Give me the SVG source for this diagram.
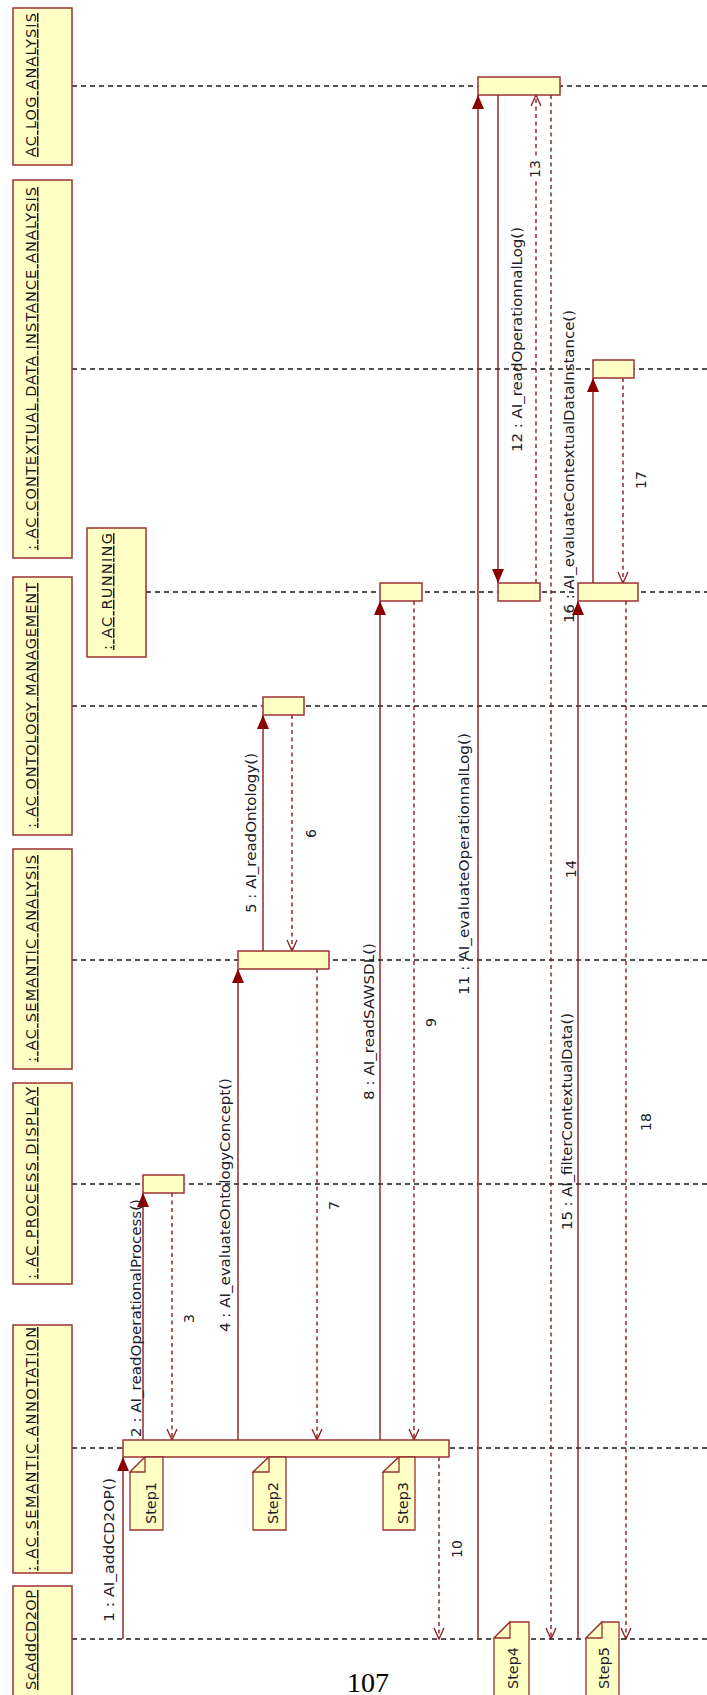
<svg xmlns="http://www.w3.org/2000/svg" width="707" height="1695" viewBox="0 0 707 1695">
<style>
.bg{fill:#ffffff}
.obj{fill:#ffffc6;stroke:#9a3232;stroke-width:1.5}
.act{fill:#ffffc6;stroke:#9a3232;stroke-width:1.5}
.note{fill:#ffffc6;stroke:#9a3232;stroke-width:1.3}
.life{stroke:#1a1a1a;stroke-width:1.4;stroke-dasharray:5,4;fill:none}
.msg{stroke:#8b1a1a;stroke-width:1.4;fill:none}
.ret{stroke:#8b1a1a;stroke-width:1.4;stroke-dasharray:4,3.5;fill:none}
.lbl{font-family:"DejaVu Sans","Liberation Sans",sans-serif;font-size:14.5px;fill:#1a1a1a;text-decoration:underline}
.mt{font-family:"DejaVu Sans","Liberation Sans",sans-serif;font-size:14px;fill:#202028}
.pg{font-family:"Liberation Serif","DejaVu Serif",serif;font-size:28px;fill:#000}
</style>
<defs>
<marker id="fill" viewBox="0 0 14 12" refX="14" refY="6" markerWidth="14" markerHeight="12" markerUnits="userSpaceOnUse" orient="auto">
<path d="M0,0 L14,6 L0,12 Z" fill="#8b0000"/>
</marker>
<marker id="open" viewBox="0 0 12 12" refX="11" refY="6" markerWidth="12" markerHeight="12" markerUnits="userSpaceOnUse" orient="auto">
<path d="M0,1 L11,6 L0,11" fill="none" stroke="#8b1a1a" stroke-width="1.3"/>
</marker>
</defs>
<rect class="bg" x="0" y="0" width="707" height="1695"/>

<g id="lifelines">
<line class="life" x1="72" y1="86" x2="707" y2="86"/>
<line class="life" x1="72" y1="369" x2="707" y2="369"/>
<line class="life" x1="146" y1="592" x2="707" y2="592"/>
<line class="life" x1="72" y1="706" x2="707" y2="706"/>
<line class="life" x1="72" y1="960" x2="707" y2="960"/>
<line class="life" x1="72" y1="1184" x2="707" y2="1184"/>
<line class="life" x1="72" y1="1448" x2="707" y2="1448"/>
<line class="life" x1="72" y1="1639" x2="707" y2="1639"/>
</g>

<g id="obj-log">
<rect class="obj" x="13" y="8" width="59" height="157"/>
<text class="lbl" transform="translate(36,157) rotate(-90)" textLength="144" lengthAdjust="spacing">AC LOG ANALYSIS</text>
</g>
<g id="obj-contextual">
<rect class="obj" x="13" y="180" width="59" height="378"/>
<text class="lbl" transform="translate(36,550) rotate(-90)" textLength="363" lengthAdjust="spacing">: AC CONTEXTUAL DATA INSTANCE ANALYSIS</text>
</g>
<g id="obj-running">
<rect class="obj" x="87" y="528" width="59" height="129"/>
<text class="lbl" transform="translate(112,650) rotate(-90)" textLength="117" lengthAdjust="spacing">: AC RUNNING</text>
</g>
<g id="obj-ontology">
<rect class="obj" x="13" y="577" width="59" height="258"/>
<text class="lbl" transform="translate(36,828) rotate(-90)" textLength="245" lengthAdjust="spacing">: AC ONTOLOGY MANAGEMENT</text>
</g>
<g id="obj-semantic-analysis">
<rect class="obj" x="13" y="849" width="59" height="220"/>
<text class="lbl" transform="translate(36,1062) rotate(-90)" textLength="207" lengthAdjust="spacing">: AC SEMANTIC ANALYSIS</text>
</g>
<g id="obj-process-display">
<rect class="obj" x="13" y="1083" width="59" height="201"/>
<text class="lbl" transform="translate(36,1279) rotate(-90)" textLength="192" lengthAdjust="spacing">: AC PROCESS DISPLAY</text>
</g>
<g id="obj-semantic-annotation">
<rect class="obj" x="13" y="1325" width="59" height="248"/>
<text class="lbl" transform="translate(36,1571) rotate(-90)" textLength="244" lengthAdjust="spacing">: AC SEMANTIC ANNOTATION</text>
</g>
<g id="obj-scadd">
<rect class="obj" x="13" y="1586" width="59" height="120"/>
<text class="lbl" transform="translate(36,1690) rotate(-90)" textLength="100" lengthAdjust="spacing">ScAddCD2OP</text>
</g>

<g id="connectors">
<line class="msg" x1="123" y1="1639" x2="123" y2="1457" marker-end="url(#fill)"/>
<line class="msg" x1="143" y1="1440" x2="143" y2="1193" marker-end="url(#fill)"/>
<line class="ret" x1="172" y1="1193" x2="172" y2="1440" marker-end="url(#open)"/>
<line class="msg" x1="238" y1="1440" x2="238" y2="969" marker-end="url(#fill)"/>
<line class="msg" x1="263" y1="951" x2="263" y2="715" marker-end="url(#fill)"/>
<line class="ret" x1="292" y1="715" x2="292" y2="951" marker-end="url(#open)"/>
<line class="ret" x1="317" y1="969" x2="317" y2="1440" marker-end="url(#open)"/>
<line class="msg" x1="380" y1="1440" x2="380" y2="601" marker-end="url(#fill)"/>
<line class="ret" x1="414" y1="601" x2="414" y2="1440" marker-end="url(#open)"/>
<line class="ret" x1="439" y1="1457" x2="439" y2="1639" marker-end="url(#open)"/>
<line class="msg" x1="478" y1="1639" x2="478" y2="95" marker-end="url(#fill)"/>
<line class="msg" x1="498" y1="95" x2="498" y2="583" marker-end="url(#fill)"/>
<line class="ret" x1="536" y1="583" x2="536" y2="95" marker-end="url(#open)"/>
<line class="ret" x1="551" y1="95" x2="551" y2="1639" marker-end="url(#open)"/>
<line class="msg" x1="578" y1="1639" x2="578" y2="601" marker-end="url(#fill)"/>
<line class="msg" x1="593" y1="583" x2="593" y2="378" marker-end="url(#fill)"/>
<line class="ret" x1="623" y1="378" x2="623" y2="583" marker-end="url(#open)"/>
<line class="ret" x1="626" y1="601" x2="626" y2="1639" marker-end="url(#open)"/>
</g>

<g id="activations">
<rect class="act" x="478" y="77" width="82" height="18"/>
<rect class="act" x="593" y="360" width="41" height="18"/>
<rect class="act" x="380" y="583" width="42" height="18"/>
<rect class="act" x="498" y="583" width="42" height="18"/>
<rect class="act" x="578" y="583" width="60" height="18"/>
<rect class="act" x="263" y="697" width="41" height="18"/>
<rect class="act" x="238" y="951" width="91" height="18"/>
<rect class="act" x="143" y="1175" width="41" height="18"/>
<rect class="act" x="123" y="1440" width="326" height="17"/>
</g>

<g id="message-labels">
<text class="mt" transform="translate(114,1622) rotate(-90)" textLength="144" lengthAdjust="spacingAndGlyphs">1 : AI_addCD2OP()</text>
<text class="mt" transform="translate(141,1437) rotate(-90)" textLength="238" lengthAdjust="spacingAndGlyphs">2 : AI_readOperationalProcess()</text>
<text class="mt" transform="translate(194,1323) rotate(-90)">3</text>
<text class="mt" transform="translate(230,1332) rotate(-90)" textLength="254" lengthAdjust="spacingAndGlyphs">4 : AI_evaluateOntologyConcept()</text>
<text class="mt" transform="translate(256,913) rotate(-90)" textLength="160" lengthAdjust="spacingAndGlyphs">5 : AI_readOntology()</text>
<text class="mt" transform="translate(316,838) rotate(-90)">6</text>
<text class="mt" transform="translate(339,1210) rotate(-90)">7</text>
<text class="mt" transform="translate(374,1100) rotate(-90)" textLength="157" lengthAdjust="spacingAndGlyphs">8 : AI_readSAWSDL()</text>
<text class="mt" transform="translate(436,1027) rotate(-90)">9</text>
<text class="mt" transform="translate(462,1558) rotate(-90)">10</text>
<text class="mt" transform="translate(469,995) rotate(-90)" textLength="262" lengthAdjust="spacingAndGlyphs">11 : AI_evaluateOperationnalLog()</text>
<text class="mt" transform="translate(522,452) rotate(-90)" textLength="225" lengthAdjust="spacingAndGlyphs">12 : AI_readOperationnalLog()</text>
<rect x="524" y="157" width="16" height="22" fill="#ffffff"/>
<text class="mt" transform="translate(540,178) rotate(-90)">13</text>
<text class="mt" transform="translate(576,878) rotate(-90)">14</text>
<text class="mt" transform="translate(572,1230) rotate(-90)" textLength="217" lengthAdjust="spacingAndGlyphs">15 : AI_filterContextualData()</text>
<text class="mt" transform="translate(574,623) rotate(-90)" textLength="313" lengthAdjust="spacingAndGlyphs">16 : AI_evaluateContextualDataInstance()</text>
<text class="mt" transform="translate(646,489) rotate(-90)">17</text>
<text class="mt" transform="translate(651,1131) rotate(-90)">18</text>
</g>

<g id="note-step1">
<path class="note" d="M130,1472 L145,1457 L163,1457 L163,1530 L130,1530 Z"/>
<path class="note" d="M130,1472 L145,1472 L145,1457 Z"/>
<text class="mt" transform="translate(156,1524) rotate(-90)" textLength="42" lengthAdjust="spacingAndGlyphs">Step1</text>
</g>
<g id="note-step2">
<path class="note" d="M253,1472 L269,1457 L286,1457 L286,1530 L253,1530 Z"/>
<path class="note" d="M253,1472 L269,1472 L269,1457 Z"/>
<text class="mt" transform="translate(278,1524) rotate(-90)" textLength="42" lengthAdjust="spacingAndGlyphs">Step2</text>
</g>
<g id="note-step3">
<path class="note" d="M383,1472 L399,1457 L415,1457 L415,1530 L383,1530 Z"/>
<path class="note" d="M383,1472 L399,1472 L399,1457 Z"/>
<text class="mt" transform="translate(408,1524) rotate(-90)" textLength="42" lengthAdjust="spacingAndGlyphs">Step3</text>
</g>
<g id="note-step4">
<path class="note" d="M494,1638 L510,1622 L529,1622 L529,1700 L494,1700 Z"/>
<path class="note" d="M494,1638 L510,1638 L510,1622 Z"/>
<text class="mt" transform="translate(518,1689) rotate(-90)" textLength="42" lengthAdjust="spacingAndGlyphs">Step4</text>
</g>
<g id="note-step5">
<path class="note" d="M586,1638 L602,1622 L619,1622 L619,1700 L586,1700 Z"/>
<path class="note" d="M586,1638 L602,1638 L602,1622 Z"/>
<text class="mt" transform="translate(609,1689) rotate(-90)" textLength="42" lengthAdjust="spacingAndGlyphs">Step5</text>
</g>

<text class="pg" x="368" y="1692" text-anchor="middle">107</text>
</svg>
